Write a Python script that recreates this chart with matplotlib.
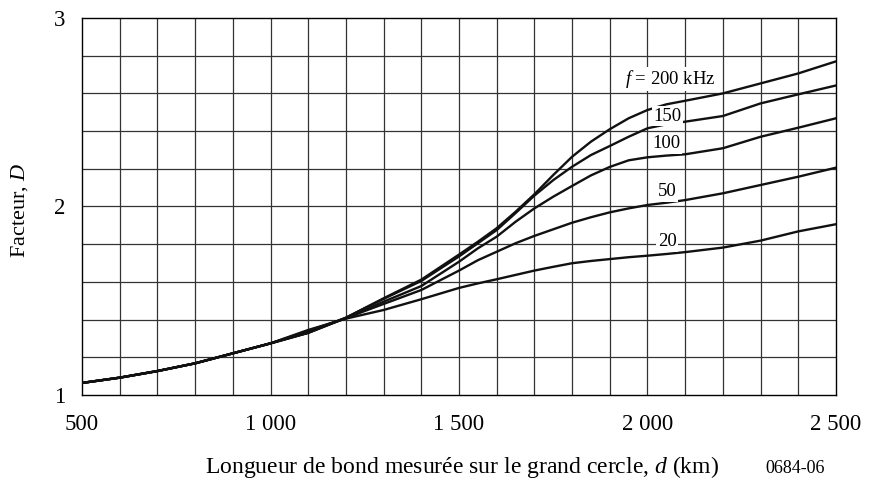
import matplotlib
matplotlib.use("Agg")
import matplotlib.pyplot as plt

plt.rcParams['font.family'] = 'Liberation Serif'
plt.rcParams['mathtext.fontset'] = 'custom'
plt.rcParams['mathtext.rm'] = 'Liberation Serif'
plt.rcParams['mathtext.it'] = 'Liberation Serif:italic'

# Distance de bond (km)
d = [500, 600, 700, 800, 900, 1000, 1100, 1200, 1300, 1400, 1500, 1550, 1600, 1650,
     1700, 1750, 1800, 1850, 1900, 1950, 2000, 2050, 2100, 2200, 2300, 2400, 2500]

# Facteur D, pour chaque fréquence
D_200 = [1.064, 1.092, 1.127, 1.168, 1.221, 1.274, 1.330, 1.410, 1.513, 1.612, 1.745, 1.813,
         1.885, 1.972, 2.065, 2.167, 2.264, 2.344, 2.410, 2.468, 2.512, 2.542, 2.561,
         2.600, 2.653, 2.706, 2.770]
D_150 = [1.064, 1.092, 1.127, 1.168, 1.221, 1.274, 1.330, 1.410, 1.510, 1.605, 1.735, 1.805,
         1.875, 1.965, 2.058, 2.140, 2.211, 2.273, 2.321, 2.370, 2.415, 2.436, 2.450,
         2.480, 2.547, 2.595, 2.642]
D_100 = [1.064, 1.092, 1.127, 1.168, 1.221, 1.274, 1.330, 1.408, 1.495, 1.578, 1.707, 1.778,
         1.840, 1.919, 1.990, 2.052, 2.109, 2.165, 2.210, 2.245, 2.261, 2.270, 2.277,
         2.309, 2.370, 2.418, 2.468]
D_50 = [1.064, 1.092, 1.127, 1.168, 1.221, 1.274, 1.340, 1.408, 1.483, 1.557, 1.660, 1.715,
        1.760, 1.805, 1.844, 1.879, 1.914, 1.943, 1.969, 1.990, 2.008, 2.020, 2.034,
        2.070, 2.114, 2.158, 2.206]
D_20 = [1.064, 1.092, 1.127, 1.168, 1.221, 1.274, 1.345, 1.405, 1.451, 1.508, 1.568, 1.592,
        1.614, 1.637, 1.660, 1.680, 1.699, 1.711, 1.721, 1.731, 1.739, 1.748, 1.758,
        1.782, 1.819, 1.868, 1.906]

series = [D_200, D_150, D_100, D_50, D_20]
labels = ['$f$ = 200 kHz', '150', '100', '50', '20']
label_pos = [(2060, 2.676), (2054, 2.48), (2050, 2.332), (2052, 2.078), (2052, 1.812)]

xticks = [500, 1000, 1500, 2000, 2500]
xticklabels = ['500', '1 000', '1 500', '2 000', '2 500']

fig = plt.figure(figsize=(8.69, 4.84), dpi=100)
ax = fig.add_axes([0.0944, 0.1839, 0.8676, 0.7789])

for v in range(600, 2500, 100):
    ax.axvline(v, color='0.2', lw=0.9, zorder=1)
for h in [1.2, 1.4, 1.6, 1.8, 2.0, 2.2, 2.4, 2.6, 2.8]:
    ax.axhline(h, color='0.2', lw=0.9, zorder=1)

for ys in series:
    ax.plot(d, ys, color='#111111', lw=1.7, zorder=3, solid_joinstyle='round')

for txt, (x, y) in zip(labels, label_pos):
    ax.text(x, y, txt, fontsize=13.5, ha='center', va='center', zorder=4,
            bbox=dict(facecolor='white', edgecolor='none', pad=1.0))

ax.set_xlim(500, 2500)
ax.set_ylim(1, 3)
ax.set_xticks(xticks)
ax.set_xticklabels(xticklabels)
ax.set_yticks([1, 2, 3])
ax.tick_params(length=0, labelsize=16.5)
ax.tick_params(axis='x', pad=14)
ax.tick_params(axis='y', pad=12)
for s in ax.spines.values():
    s.set_linewidth(1.0)
    s.set_color('black')

fig.text(0.0225, 0.566, 'Facteur, $D$', fontsize=16, rotation=90,
         ha='center', va='center')
fig.text(0.532, 0.035, 'Longueur de bond mesurée sur le grand cercle, $d$ (km)',
         fontsize=17, ha='center', va='center')
fig.text(0.915, 0.033, '0684-06', fontsize=13, ha='center', va='center')

fig.savefig('out.png', dpi=100)
